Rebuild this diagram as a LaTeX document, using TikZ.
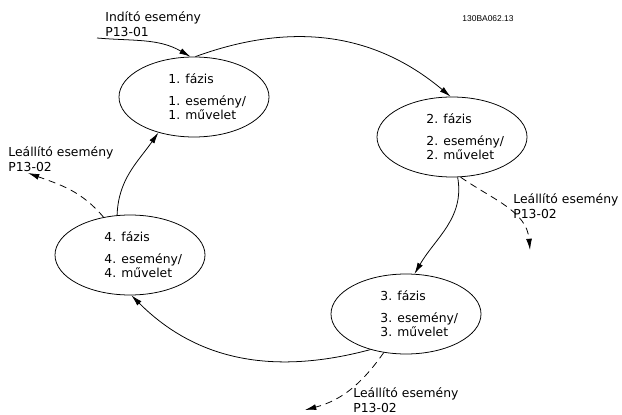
\documentclass[tikz,border=0pt]{standalone}
\usepackage{fontspec}
\setmainfont{DejaVu Sans}
\newfontfamily\codefont{Liberation Sans}
\usetikzlibrary{arrows.meta,positioning,calc,shapes.geometric}

\begin{document}
\begin{tikzpicture}[x=0.025cm,y=0.025cm,>={Latex[length=8pt,width=4.2pt]},font=\fontsize{8.8}{10.5}\selectfont,line width=0.55pt]
\tikzstyle{ph}=[draw,ellipse,minimum width=150*0.025cm,minimum height=80*0.025cm,inner sep=0pt]
\tikzstyle{txt}=[align=left,anchor=west,inner sep=0pt]
\tikzstyle{stop}=[->,dash pattern=on 5pt off 3.5pt]
\useasboundingbox (0,0) rectangle (622,414);
\foreach \n/\x/\y in {1/194/317,2/452/277,3/406/100,4/130/159} {
  \node[ph] (p\n) at (\x,\y) {};
  \node[txt] (t\n) at (\x-26,\y) {\n. fázis\\[4.5pt]\n. esemény/\\\n. művelet};
}
\node[font=\codefont\fontsize{6}{7}\selectfont] (code) at (488,395) {130BA062.13};
\node[txt] (start) at (105,390) {Indító esemény\\P13-01};
\node[txt] (stop4) at (8,255) {Leállító esemény\\P13-02};
\node[txt] (stop2) at (513,208) {Leállító esemény\\P13-02};
\node[txt] (stop3) at (353,14) {Leállító esemény\\P13-02};
\coordinate (s0) at (97,376);
\coordinate (d2) at (530,164);
\coordinate (d3) at (305,4);
\coordinate (d4) at (28,241);
% cycle
\draw[->] (s0) to[out=-5,in=150] (p1.95);
\draw[->] (p1.88) to[out=20,in=140] (p2.92);
\draw[->] (p2.-82) to[out=-80,in=60] (p3.78);
\draw[->] (p3.225) to[out=195,in=-45] (p4.-88);
\draw[->] (p4.108) to[out=88,in=-125] (p1.-135);
% stop events
\draw[stop] (p2.-78) to[out=-35,in=95] (d2);
\draw[stop] (p3.-120) to[out=-125,in=15] (d3);
\draw[stop] (p4.125) to[out=130,in=-20] (d4);
\end{tikzpicture}
\end{document}
